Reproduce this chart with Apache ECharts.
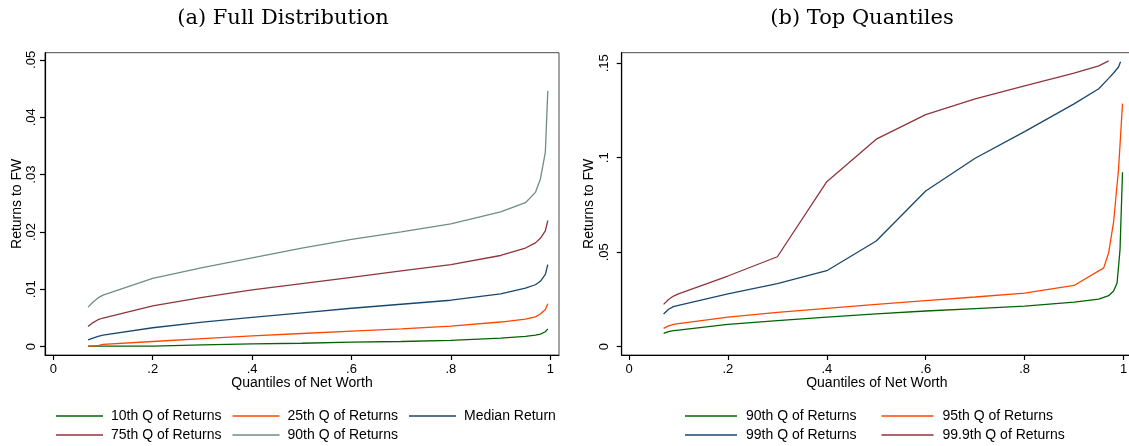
<!DOCTYPE html>
<html>
<head>
<meta charset="utf-8">
<script src="https://cdn.jsdelivr.net/npm/echarts@6/dist/echarts.min.js"></script>
<style>
  html, body { margin: 0; padding: 0; background: #fff; overflow: hidden; width: 1129px; height: 446px; }
  #left  { position: absolute; left: 0;     top: 0; width: 570px; height: 446px; }
  #right { position: absolute; left: 570px; top: 0; width: 575px; height: 446px; }
</style>
</head>
<body>
<div id="left"></div>
<div id="right"></div>
<script>
// ---- Panel (a): full distribution of returns by net-worth quantile ----
const fullQuantiles = [0.07, 0.08, 0.09, 0.1, 0.2, 0.3, 0.4, 0.5, 0.6, 0.7, 0.8, 0.9, 0.95, 0.97, 0.98, 0.99, 0.995];
const q10Returns  = [0.0001, 0.0001, 0.0001, 0.0001, 0.0001, 0.0003, 0.0005, 0.0006, 0.0008, 0.0009, 0.0011, 0.0015, 0.0018, 0.0020, 0.0022, 0.0026, 0.0031];
const q25Returns  = [0.0001, 0.0001, 0.0002, 0.0004, 0.0009, 0.0014, 0.0019, 0.0023, 0.0027, 0.0031, 0.0036, 0.0043, 0.0048, 0.0052, 0.0057, 0.0065, 0.0075];
const medReturns  = [0.0012, 0.0015, 0.0018, 0.0020, 0.0033, 0.0043, 0.0051, 0.0059, 0.0067, 0.0074, 0.0081, 0.0092, 0.0102, 0.0108, 0.0114, 0.0126, 0.0143];
const q75Returns  = [0.0035, 0.0042, 0.0047, 0.0050, 0.0071, 0.0086, 0.0099, 0.0110, 0.0121, 0.0132, 0.0143, 0.0159, 0.0172, 0.0181, 0.0189, 0.0202, 0.0220];
const q90Returns  = [0.0069, 0.0078, 0.0085, 0.0090, 0.0119, 0.0138, 0.0155, 0.0172, 0.0187, 0.0200, 0.0214, 0.0235, 0.0251, 0.0269, 0.0292, 0.0339, 0.0446];
const fullNames = ['10th Q of Returns', '25th Q of Returns', 'Median Return', '75th Q of Returns', '90th Q of Returns'];

// ---- Panel (b): top quantiles of returns ----
const top90X = [0.07, 0.08, 0.09, 0.1, 0.2, 0.3, 0.4, 0.5, 0.6, 0.7, 0.8, 0.9, 0.95, 0.97, 0.98, 0.987, 0.993, 0.998];
const top90Y = [0.0070, 0.0080, 0.0085, 0.0088, 0.0118, 0.0138, 0.0157, 0.0174, 0.0189, 0.0202, 0.0215, 0.0236, 0.0252, 0.0270, 0.0295, 0.0337, 0.0514, 0.0923];
const top95X = [0.07, 0.08, 0.09, 0.1, 0.2, 0.3, 0.4, 0.5, 0.6, 0.7, 0.8, 0.9, 0.96, 0.97, 0.98, 0.99, 0.998];
const top95Y = [0.0097, 0.0110, 0.0118, 0.0122, 0.0157, 0.0182, 0.0203, 0.0224, 0.0244, 0.0263, 0.0284, 0.0324, 0.0417, 0.0497, 0.0660, 0.0940, 0.1286];
const top99X = [0.07, 0.08, 0.09, 0.1, 0.2, 0.3, 0.4, 0.5, 0.6, 0.7, 0.8, 0.9, 0.95, 0.97, 0.98, 0.99, 0.994];
const top99Y = [0.0173, 0.0198, 0.0212, 0.0219, 0.0279, 0.0334, 0.0402, 0.0559, 0.0824, 0.0997, 0.1138, 0.1285, 0.1365, 0.1420, 0.1448, 0.1480, 0.1508];
const top999X = [0.07, 0.08, 0.09, 0.1, 0.2, 0.3, 0.4, 0.5, 0.6, 0.7, 0.8, 0.9, 0.95, 0.97];
const top999Y = [0.0224, 0.0250, 0.0268, 0.0279, 0.0374, 0.0476, 0.0873, 0.1098, 0.1228, 0.1311, 0.1380, 0.1447, 0.1486, 0.1512];
const topNames = ['90th Q of Returns', '95th Q of Returns', '99th Q of Returns', '99.9th Q of Returns'];

// ---- Tick labels ----
const xTicks = [0, 0.2, 0.4, 0.6, 0.8, 1];
const yTicksFull = [0, 0.01, 0.02, 0.03, 0.04, 0.05];
const yTicksTop = [0, 0.05, 0.1, 0.15];

// Stata-like palette
const GREEN = '#006400', ORANGE = '#ff4500', NAVY = '#1a476f', MAROON = '#90353b', TEAL = '#6e8e84';

const SANS = '"Liberation Sans", Arial, sans-serif';
const SERIF = '"DejaVu Serif", serif';

function pairs(xs, ys) { return xs.map((x, i) => [x, ys[i]]); }
function fmtTick(v) {
  if (v === 0) return '0';
  if (v === 1) return '1';
  return String(+v.toFixed(4)).replace(/^0/, '');
}

function lineSeries(name, data, color) {
  return {
    type: 'line', name: name, data: data,
    symbol: 'none', showSymbol: false, smooth: false,
    lineStyle: { color: color, width: 1.3 },
    itemStyle: { color: color },
    silent: true, animation: false
  };
}

function axisCommon() {
  return {
    type: 'value',
    axisLine: { show: true, onZero: false, lineStyle: { color: '#000', width: 1.2 } },
    splitLine: { show: false },
    nameLocation: 'middle',
    nameMoveOverlap: false,
    nameTextStyle: { fontFamily: SANS, fontSize: 14, color: '#000' }
  };
}

function buildOption(p) {
  const xAxis = Object.assign(axisCommon(), {
    min: p.xMin, max: p.xMax,
    name: 'Quantiles of Net Worth', nameGap: 21,
    axisTick: { show: true, length: 5, customValues: xTicks, lineStyle: { color: '#000', width: 1.2 } },
    axisLabel: { customValues: xTicks, formatter: fmtTick, fontFamily: SANS, fontSize: 13, color: '#000', margin: 8 }
  });
  const yAxis = Object.assign(axisCommon(), {
    min: p.yMin, max: p.yMax,
    name: 'Returns to FW', nameGap: p.yNameGap,
    axisTick: { show: true, length: 5, customValues: p.yTicks, lineStyle: { color: '#000', width: 1.2 } },
    axisLabel: { customValues: p.yTicks, formatter: fmtTick, rotate: 90, fontFamily: SANS, fontSize: 13, color: '#000', margin: p.yLabelMargin }
  });
  const legendBase = {
    padding: 0,
    icon: 'rect',
    itemWidth: p.legendKey, itemHeight: 1.6, itemGap: p.legendGap,
    textStyle: { fontFamily: SANS, fontSize: 14, color: '#000', padding: [0, 0, 0, p.legendTextPad] },
    selectedMode: false
  };
  return {
    animation: false,
    backgroundColor: '#fff',
    graphic: [{
      type: 'text', x: p.titleX, y: 19,
      style: { text: p.title, font: '21px ' + SERIF, fill: '#000', textAlign: 'center', textVerticalAlign: 'middle' }
    }],
    grid: {
      left: p.gridLeft, top: 52.7, width: p.gridWidth, height: 302.3,
      containLabel: false, outerBoundsMode: 'none',
      show: true, borderColor: '#4a4a4a', borderWidth: 1, backgroundColor: '#fff'
    },
    xAxis: xAxis,
    yAxis: yAxis,
    legend: [
      Object.assign({}, legendBase, { data: p.legendRows[0], left: p.legendLeft, top: 409 }),
      Object.assign({}, legendBase, { data: p.legendRows[1], left: p.legendLeft, top: 428 })
    ],
    series: p.series
  };
}

const leftChart = echarts.init(document.getElementById('left'), null, { renderer: 'canvas' });
leftChart.setOption(buildOption({
  title: '(a) Full Distribution', titleX: 283,
  gridLeft: 45, gridWidth: 514,
  xMin: -0.0167, xMax: 1.0175,
  yMin: -0.00145, yMax: 0.05126,
  yTicks: yTicksFull, yNameGap: 21, yLabelMargin: 7,
  legendLeft: 56, legendKey: 47, legendGap: 11, legendTextPad: 3,
  legendRows: [fullNames.slice(0, 3), fullNames.slice(3)],
  series: [
    lineSeries(fullNames[0], pairs(fullQuantiles, q10Returns), GREEN),
    lineSeries(fullNames[1], pairs(fullQuantiles, q25Returns), ORANGE),
    lineSeries(fullNames[2], pairs(fullQuantiles, medReturns), NAVY),
    lineSeries(fullNames[3], pairs(fullQuantiles, q75Returns), MAROON),
    lineSeries(fullNames[4], pairs(fullQuantiles, q90Returns), TEAL)
  ]
}));

const rightChart = echarts.init(document.getElementById('right'), null, { renderer: 'canvas' });
rightChart.setOption(buildOption({
  title: '(b) Top Quantiles', titleX: 292,
  gridLeft: 51.7, gridWidth: 510.3,
  xMin: -0.01476, xMax: 1.0172,
  yMin: -0.00439, yMax: 0.15556,
  yTicks: yTicksTop, yNameGap: 26, yLabelMargin: 11,
  legendLeft: 115, legendKey: 52, legendGap: 25, legendTextPad: 4,
  legendRows: [topNames.slice(0, 2), topNames.slice(2)],
  series: [
    lineSeries(topNames[0], pairs(top90X, top90Y), GREEN),
    lineSeries(topNames[1], pairs(top95X, top95Y), ORANGE),
    lineSeries(topNames[2], pairs(top99X, top99Y), NAVY),
    lineSeries(topNames[3], pairs(top999X, top999Y), MAROON)
  ]
}));
</script>
</body>
</html>
